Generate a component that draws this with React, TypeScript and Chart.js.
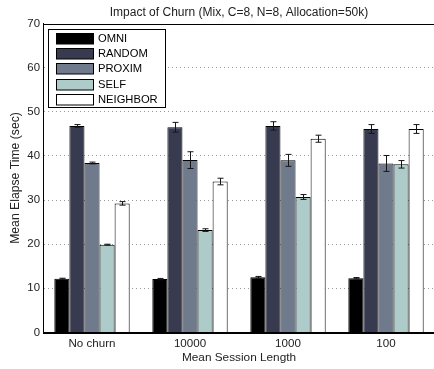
import React, { useEffect, useRef } from "react";
import { Chart, registerables } from "chart.js";

Chart.register(...registerables);

const categories = ["No churn", "10000", "1000", "100"];
const seriesNames = ["OMNI", "RANDOM", "PROXIM", "SELF", "NEIGHBOR"];
const omni = [12.2, 12.1, 12.5, 12.3];
const omniErr = [0.1, 0.15, 0.2, 0.15];
const random = [46.8, 46.5, 46.8, 46.1];
const randomErr = [0.3, 1.1, 0.95, 1.0];
const proxim = [38.4, 39.05, 39.0, 38.3];
const proximErr = [0.2, 1.9, 1.35, 1.8];
const self = [19.9, 23.2, 30.7, 38.1];
const selfErr = [0.1, 0.3, 0.55, 0.85];
const neighbor = [29.25, 34.2, 43.9, 46.1];
const neighborErr = [0.4, 0.75, 0.8, 1.0];
const yTicks = [0, 10, 20, 30, 40, 50, 60, 70];

const seriesValues = [omni, random, proxim, self, neighbor];
const seriesErrors = [omniErr, randomErr, proximErr, selfErr, neighborErr];
const seriesColors = ["#000000", "#383a4f", "#6f7a8c", "#adcbc9", "#ffffff"];

const FONT = '"Liberation Sans", Arial, Helvetica, sans-serif';

const errorBarPlugin = {
  id: "errorBars",
  afterDatasetsDraw(chart: any) {
    const ctx = chart.ctx;
    const yScale = chart.scales.y;
    ctx.save();
    ctx.strokeStyle = "#151515";
    ctx.lineWidth = 1;
    chart.data.datasets.forEach((ds: any, d: number) => {
      const meta = chart.getDatasetMeta(d);
      meta.data.forEach((el: any, j: number) => {
        const v = ds.data[j];
        const e = ds.errors[j];
        const x = Math.round(el.x) + 0.5;
        const yt = yScale.getPixelForValue(v + e);
        const yb = yScale.getPixelForValue(v - e);
        ctx.beginPath();
        ctx.moveTo(x, yt);
        ctx.lineTo(x, yb);
        ctx.moveTo(x - 3, yt);
        ctx.lineTo(x + 3, yt);
        ctx.moveTo(x - 3, yb);
        ctx.lineTo(x + 3, yb);
        ctx.stroke();
      });
    });
    ctx.restore();
  },
};

const framePlugin = {
  id: "frameTitleLegend",
  afterDraw(chart: any) {
    const ctx = chart.ctx;
    const a = chart.chartArea;
    ctx.save();
    // frame
    ctx.strokeStyle = "#000";
    ctx.lineWidth = 1;
    ctx.strokeRect(Math.round(a.left) + 0.5, Math.round(a.top) + 0.5, Math.round(a.right - a.left), Math.round(a.bottom - a.top));
    // title
    ctx.fillStyle = "#222";
    ctx.font = `12px ${FONT}`;
    ctx.textAlign = "center";
    ctx.textBaseline = "middle";
    ctx.fillText("Impact of Churn (Mix, C=8, N=8, Allocation=50k)", (a.left + a.right) / 2, 13);
    // legend
    const bx = 48.5, by = 29.5, bw = 117, bh = 78;
    ctx.fillStyle = "#fff";
    ctx.fillRect(bx, by, bw, bh);
    ctx.strokeStyle = "#000";
    ctx.strokeRect(bx, by, bw, bh);
    ctx.font = `11.2px ${FONT}`;
    ctx.textAlign = "left";
    chart.data.datasets.forEach((ds: any, i: number) => {
      const top = 33 + i * 15.2;
      const sy = Math.round(top) + 0.5;
      ctx.fillStyle = ds.backgroundColor;
      ctx.fillRect(56.5, sy, 37, 10.5);
      ctx.strokeStyle = "#000";
      ctx.strokeRect(56.5, sy, 37, 10.5);
      ctx.fillStyle = "#000";
      ctx.fillText(ds.label, 98, sy + 5.8);
    });
    ctx.restore();
  },
};

export default function App() {
  const canvasRef = useRef<HTMLCanvasElement | null>(null);

  useEffect(() => {
    if (!canvasRef.current) return;
    const chart = new Chart(canvasRef.current, {
      type: "bar",
      data: {
        labels: categories,
        datasets: seriesNames.map((name, i) => ({
          label: name,
          data: seriesValues[i],
          errors: seriesErrors[i],
          backgroundColor: seriesColors[i],
          borderColor: "#000",
          borderWidth: 1,
          categoryPercentage: 0.769,
          barPercentage: 1,
        })) as any,
      },
      options: {
        animation: false,
        responsive: false,
        layout: { padding: { left: 0, top: 23.5, right: 5, bottom: 0 } },
        plugins: {
          legend: { display: false },
          title: { display: false },
          tooltip: { enabled: false },
        },
        scales: {
          x: {
            grid: { display: false, drawTicks: false },
            border: { display: true, color: "#000", width: 1 },
            ticks: { color: "#222", font: { family: FONT, size: 11.6 }, padding: 4, maxRotation: 0 },
            title: {
              display: true,
              text: "Mean Session Length",
              color: "#222",
              font: { family: FONT, size: 11.8 },
              padding: { top: 0, bottom: 4 },
            },
            afterFit(scale: any) {
              scale.height = 36.5;
            },
          },
          y: {
            min: 0,
            max: 70,
            afterBuildTicks(scale: any) {
              scale.ticks = yTicks.map((v) => ({ value: v }));
            },
            grid: {
              drawTicks: false,
              color: (c: any) => (c.tick && (c.tick.value === 0 || c.tick.value === 70) ? "rgba(0,0,0,0)" : "#9a9a9a"),
              lineWidth: 1,
            },
            border: { display: true, color: "#000", width: 1, dash: [1, 3] },
            ticks: { color: "#222", font: { family: FONT, size: 11.4 }, padding: 3 },
            title: {
              display: true,
              text: "Mean Elapse Time (sec)",
              color: "#222",
              font: { family: FONT, size: 12.2 },
              padding: { top: 8.5, bottom: 0 },
            },
            afterFit(scale: any) {
              scale.width = 43;
            },
          },
        },
      } as any,
      plugins: [errorBarPlugin, framePlugin],
    });
    return () => chart.destroy();
  }, []);

  return (
    <div style={{ position: "fixed", left: 0, top: 0, width: 434, height: 369, overflow: "hidden", background: "#fff" }}>
      <canvas ref={canvasRef} width={440} height={369} style={{ display: "block", width: 440, height: 369 }} />
    </div>
  );
}
